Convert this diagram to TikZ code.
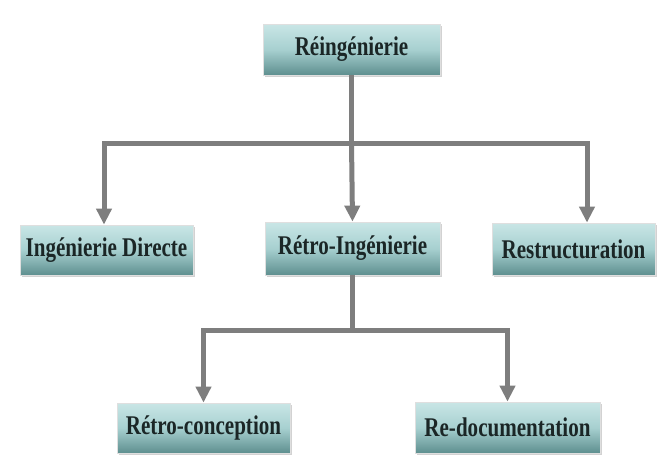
\documentclass[tikz,border=0pt]{standalone}
\usepackage{fontspec}
\newfontfamily\boxfont[FakeStretch=0.78]{Liberation Serif}
\usetikzlibrary{arrows.meta,shadows}
\definecolor{linkgray}{HTML}{7E7E7E}
\definecolor{tealtop}{HTML}{C9E6E6}
\definecolor{tealmid}{HTML}{A7D0D0}
\definecolor{tealbot}{HTML}{5E8F8F}
\definecolor{inkdark}{HTML}{1B2626}
\tikzset{
  stagebox/.style={
    rectangle, draw=white!75!gray, line width=0.8pt,
    top color=tealtop, bottom color=tealbot, middle color=tealmid,
    drop shadow={opacity=0.35, shadow xshift=2pt, shadow yshift=-2pt},
    text=inkdark, font=\boxfont\bfseries\fontsize{27}{30}\selectfont,
    inner sep=0pt, anchor=center},
  link/.style={draw=linkgray, line width=5pt},
  linkarrow/.style={link, -{Triangle[width=15pt,length=16pt]}}
}
\begin{document}
\begin{tikzpicture}[x=1pt,y=-1pt]
\useasboundingbox[fill=white] (0,0) rectangle (658,459);

% boxes
\node[stagebox, minimum width=177pt, minimum height=51pt] (reing) at (351.5,49.5) {Réingénierie};
\node[stagebox, minimum width=173pt, minimum height=50pt] (direct) at (106.5,250) {Ingénierie Directe};
\node[stagebox, minimum width=175pt, minimum height=53pt] (retro) at (352.5,248.5) {Rétro-Ingénierie};
\node[stagebox, minimum width=163pt, minimum height=52pt] (restr) at (573.5,249) {Restructuration};
\node[stagebox, minimum width=173pt, minimum height=50pt] (concep) at (203.5,428) {Rétro-conception};
\node[stagebox, minimum width=185pt, minimum height=51pt] (redoc) at (507.5,427.5) {Re-documentation};

% bus ends and levels
\coordinate (busL) at (104,143);
\coordinate (busR) at (587,143);
\coordinate (busB) at (0,330);

% first level
\draw[link] (reing.south) -- (reing.south |- busL);
\draw[link, line cap=rect] (busL) -- (busR);
\draw[linkarrow] (busL) -- (busL |- direct.north);
\draw[linkarrow] (reing.south |- busL) -- (retro.north);
\draw[linkarrow] (busR) -- (busR |- restr.north);

% second level
\draw[link] (retro.south) -- (retro.south |- busB);
\draw[link, line cap=rect] (concep.north |- busB) -- (redoc.north |- busB);
\draw[linkarrow] (concep.north |- busB) -- (concep.north);
\draw[linkarrow] (redoc.north |- busB) -- (redoc.north);
\end{tikzpicture}
\end{document}
